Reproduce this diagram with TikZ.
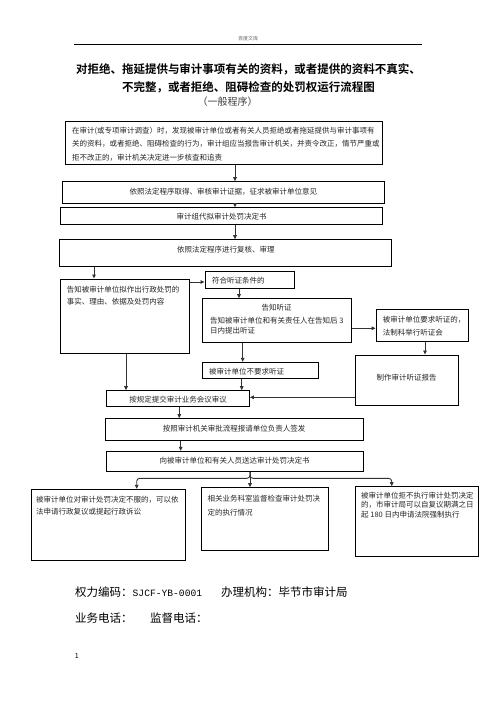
\documentclass[tikz,border=0pt]{standalone}
\usepackage{fontspec}
\setmainfont{Noto Sans CJK SC}[BoldFont={Noto Sans CJK SC Bold}]
\newfontfamily\monof{Liberation Mono}
\usetikzlibrary{arrows.meta}
\newcommand\mybox[5]{\node[bx,minimum width={(#4-(#2))*1pt},minimum height={(#5-(#3))*1pt}] (#1) at ({(#2+#4)/2},{(#3+#5)/2}) {};}
\tikzset{
  bx/.style={draw=black,line width=1pt,inner sep=0pt},
  txt/.style={inner sep=0pt,text=black!85,font=\fontsize{7.5}{13}\selectfont},
  mtxt/.style={txt,align=left,anchor=north west,font=\fontsize{7.5}{#1}\selectfont},
  arr/.style={-{Triangle[length=4pt,width=3.6pt]},line width=0.9pt,draw=black!80}
}
\begin{document}
\begin{tikzpicture}[x=1pt,y=-1pt]
\useasboundingbox[fill=white] (0,0) rectangle (496,702);
% header
\node[inner sep=0pt,font=\fontsize{5}{6}\selectfont,text=black!60] (hdr) at (248,39) {百度文库};
\coordinate (hl) at (74,44); \coordinate (hr) at (422,44);
\draw[line width=0.8pt] (hl) -- (hr);
% title
\node[inner sep=0pt,font=\bfseries\fontsize{11.5}{18}\selectfont,align=center] (title) at (248.5,78)
  {对拒绝、拖延提供与审计事项有关的资料，或者提供的资料不真实、\\不完整，或者拒绝、阻碍检查的处罚权运行流程图};
\node[inner sep=0pt,font=\fontsize{10}{12}\selectfont,text=black!75] (sub) at (227.5,102) {（一般程序）};
% boxes
\mybox{B1}{65.7}{121}{382.7}{164}
\mybox{B2}{62.7}{181.7}{384}{203}
\mybox{B3}{60.7}{207.7}{382}{224}
\mybox{B4}{59}{239.7}{391}{266.7}
\mybox{B5}{60.7}{279}{189}{353.3}
\mybox{B6}{205}{271.7}{294}{288.3}
\mybox{B7}{202.3}{298.7}{351.7}{342.3}
\mybox{B8}{376}{309.3}{468.3}{341.7}
\mybox{B9}{355.3}{355}{458}{405.5}
\mybox{B10}{202.3}{362.3}{318.3}{378.3}
\mybox{B11}{106.7}{390.7}{249.3}{406}
\mybox{B12}{105.7}{418.7}{363.3}{440}
\mybox{B13}{106.7}{451.3}{363.3}{471.7}
\mybox{B14}{31}{489.3}{185}{560.7}
\mybox{B15}{201}{487.7}{328.3}{550}
\mybox{B16}{355}{486.7}{478.3}{556}
% texts
\node[mtxt=13.5] (t1) at (72,126.6) {在审计(或专项审计调查）时，发现被审计单位或者有关人员拒绝或者拖延提供与审计事项有\\关的资料，或者拒绝、阻碍检查的行为，审计组应当报告审计机关，并责令改正，情节严重或\\拒不改正的，审计机关决定进一步核查和追责};
\node[txt] (t2) at (223.3,191.5) {依照法定程序取得、审核审计证据，征求被审计单位意见};
\node[txt] (t3) at (221.7,216.5) {审计组代拟审计处罚决定书};
\node[txt] (t4) at (225.8,250) {依照法定程序进行复核、审理};
\node[mtxt=12.7] (t5) at (66.7,285.6) {告知被审计单位拟作出行政处罚的\\事实、理由、依据及处罚内容};
\node[txt,anchor=west] (t6) at (212,280.5) {符合听证条件的};
\node[txt] (t7a) at (276.7,307.7) {告知听证};
\node[mtxt=10.8] (t7b) at (210,316.6) {告知被审计单位和有关责任人在告知后 3\\日内提出听证};
\node[mtxt=13.3] (t8) at (382.7,315.6) {被审计单位要求听证的，\\法制科举行听证会};
\node[txt] (t9) at (406.7,378) {制作审计听证报告};
\node[txt,anchor=west] (t10) at (209,371.5) {被审计单位不要求听证};
\node[txt] (t11) at (178,399.5) {按规定提交审计业务会议审议};
\node[txt] (t12) at (234.2,429) {按照审计机关审批流程报请单位负责人签发};
\node[txt] (t13) at (234.7,460.5) {向被审计单位和有关人员送达审计处罚决定书};
\node[mtxt=12.4] (t14) at (36,495.9) {被审计单位对审计处罚决定不服的，可以依\\法申请行政复议或提起行政诉讼};
\node[mtxt=14] (t15) at (207.3,494.9) {相关业务科室监督检查审计处罚决\\定的执行情况};
\node[mtxt=9.8] (t16) at (361,491.6) {被审计单位拒不执行审计处罚决定\\的，市审计局可以自复议期满之日\\起 180 日内申请法院强制执行};
% helper coordinates
\coordinate (x235) at (235,0);
\coordinate (x94) at (94,0);
\coordinate (x239) at (239,0);
\coordinate (x425) at (425,0);
\coordinate (x2427) at (242.7,0);
\coordinate (x2417) at (241.7,0);
\coordinate (x126) at (126,0);
\coordinate (x1793) at (179.3,0);
\coordinate (x1807) at (180.7,0);
\coordinate (y282) at (0,282);
\coordinate (y328) at (0,328.3);
\coordinate (y397) at (0,397.3);
\coordinate (j) at (0,478.3);
\coordinate (xl) at (136.7,0);
\coordinate (xm) at (250,0);
\coordinate (xr) at (391.7,0);
% arrows
\draw[arr] (B1.south -| x235) -- (B2.north -| x235);
\draw[arr] (B2.south -| x235) -- (B3.north -| x235);
\draw[arr] (B3.south -| x235) -- (B4.north -| x235);
\draw[arr] (B4.south -| x94) -- (B5.north -| x94);
\draw[arr] (B5.east |- y282) -- (B6.west |- y282);
\draw[arr] (B6.south -| x239) -- (B7.north -| x239);
\draw[arr] (B7.east |- y328) -- (B8.west |- y328);
\draw[arr] (B8.south -| x425) -- (B9.north -| x425);
\draw[arr] (B7.south -| x2427) -- (B10.north -| x2427);
\draw[arr] (B10.south -| x2417) -- (B11.north -| x2417);
\draw[arr] (B5.south -| x126) -- (B11.north -| x126);
\draw[arr] (B9.west |- y397) -- (B11.east |- y397);
\draw[arr] (B11.south -| x1793) -- (B12.north -| x1793);
\draw[arr] (B12.south -| x1807) -- (B13.north -| x1807);
\draw[arr] (B13.south -| xm) -- (B15.north -| xm);
\draw[arr,rounded corners=3pt] (B13.south -| xm) -- (j -| xm) -| (B14.north -| xl);
\draw[arr,rounded corners=3pt] (B13.south -| xm) -- (j -| xm) -| (B16.north -| xr);
% footer
\node[anchor=west,inner sep=0pt,font=\fontsize{11.5}{14}\selectfont] (f1) at (75,591.7)
  {权力编码：{\monof\fontsize{9.64}{12}\selectfont SJCF-YB-0001}\hspace{19pt}办理机构：毕节市审计局};
\node[anchor=west,inner sep=0pt,font=\fontsize{11.5}{14}\selectfont] (f2) at (75,618.3)
  {业务电话：\hspace{17.5pt}监督电话：};
\node[inner sep=0pt,font=\fontsize{7}{8}\selectfont] (pg) at (76.7,655.7) {1};
\end{tikzpicture}
\end{document}
